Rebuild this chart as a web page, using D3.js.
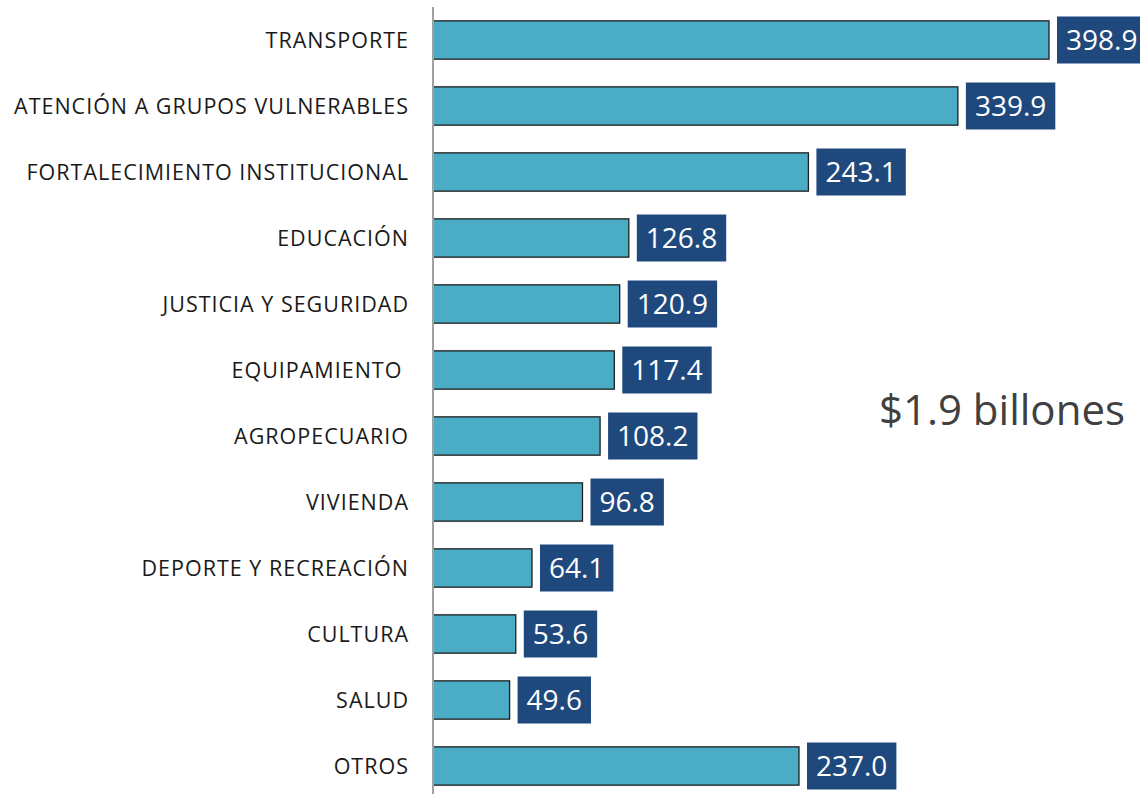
<!DOCTYPE html>
<html>
<head>
<meta charset="utf-8">
<script src="https://cdn.jsdelivr.net/npm/d3@7"></script>
<style>
  body { margin: 0; background: #fff; }
</style>
</head>
<body>
<div id="chart"></div>
<script>
// Data
const categories = [
    'TRANSPORTE', 'ATENCIÓN A GRUPOS VULNERABLES', 'FORTALECIMIENTO INSTITUCIONAL',
    'EDUCACIÓN', 'JUSTICIA Y SEGURIDAD', 'EQUIPAMIENTO ', 'AGROPECUARIO',
    'VIVIENDA', 'DEPORTE Y RECREACIÓN', 'CULTURA', 'SALUD', 'OTROS'
];
const values = [398.9, 339.9, 243.1, 126.8, 120.9, 117.4, 108.2, 96.8, 64.1, 53.6, 49.6, 237.0];
const totalLabel = '$1.9 billones';

const width = 1140;
const height = 794;
const x0 = 433;

const svg = d3.select('#chart')
    .append('svg')
    .attr('width', width)
    .attr('height', height)
    .style('font-family', '"Open Sans", sans-serif');

// Scales
const x = d3.scaleLinear()
    .domain([0, 398.9])
    .range([x0, 1049]);

const y = d3.scaleBand()
    .domain(categories)
    .range([7, 799])
    .paddingInner(0.42)
    .paddingOuter(0.21);

// Category labels
svg.selectAll('.cat')
    .data(categories)
    .enter()
    .append('text')
    .attr('class', 'cat')
    .attr('x', 409)
    .attr('y', d => y(d) + y.bandwidth() / 2)
    .attr('dy', '0.35em')
    .attr('text-anchor', 'end')
    .attr('fill', '#1a1a1a')
    .style('font-size', '21.5px')
    .style('letter-spacing', '1px')
    .style('white-space', 'pre')
    .text(d => d);

// Bars
svg.selectAll('.bar')
    .data(values)
    .enter()
    .append('rect')
    .attr('class', 'bar')
    .attr('x', x(0))
    .attr('y', (d, i) => y(categories[i]))
    .attr('width', d => x(d) - x(0))
    .attr('height', y.bandwidth())
    .attr('fill', '#4bacc6')
    .attr('stroke', '#1e1e1e')
    .attr('stroke-width', 1.3);

// Axis line
svg.append('line')
    .attr('x1', x0)
    .attr('x2', x0)
    .attr('y1', 7)
    .attr('y2', height)
    .attr('stroke', '#a0a0a0')
    .attr('stroke-width', 2);

// Value labels with boxes
const lab = svg.selectAll('.val')
    .data(values)
    .enter()
    .append('g')
    .attr('class', 'val')
    .attr('transform', (d, i) => `translate(${x(d) + 8},${y(categories[i]) + y.bandwidth() / 2})`);

lab.append('rect')
    .attr('y', -23.5)
    .attr('height', 47)
    .attr('fill', '#1f497d');

lab.append('text')
    .attr('x', 9)
    .attr('dy', '0.36em')
    .attr('fill', '#fff')
    .style('font-size', '28px')
    .text(d => d.toFixed(1));

lab.each(function () {
    const g = d3.select(this);
    const w = g.select('text').node().getComputedTextLength();
    g.select('rect').attr('width', w + 18);
});

// Total annotation
svg.append('text')
    .attr('x', 1125)
    .attr('y', 425)
    .attr('text-anchor', 'end')
    .attr('fill', '#404040')
    .style('font-size', '42px')
    .text(totalLabel);
</script>
</body>
</html>
